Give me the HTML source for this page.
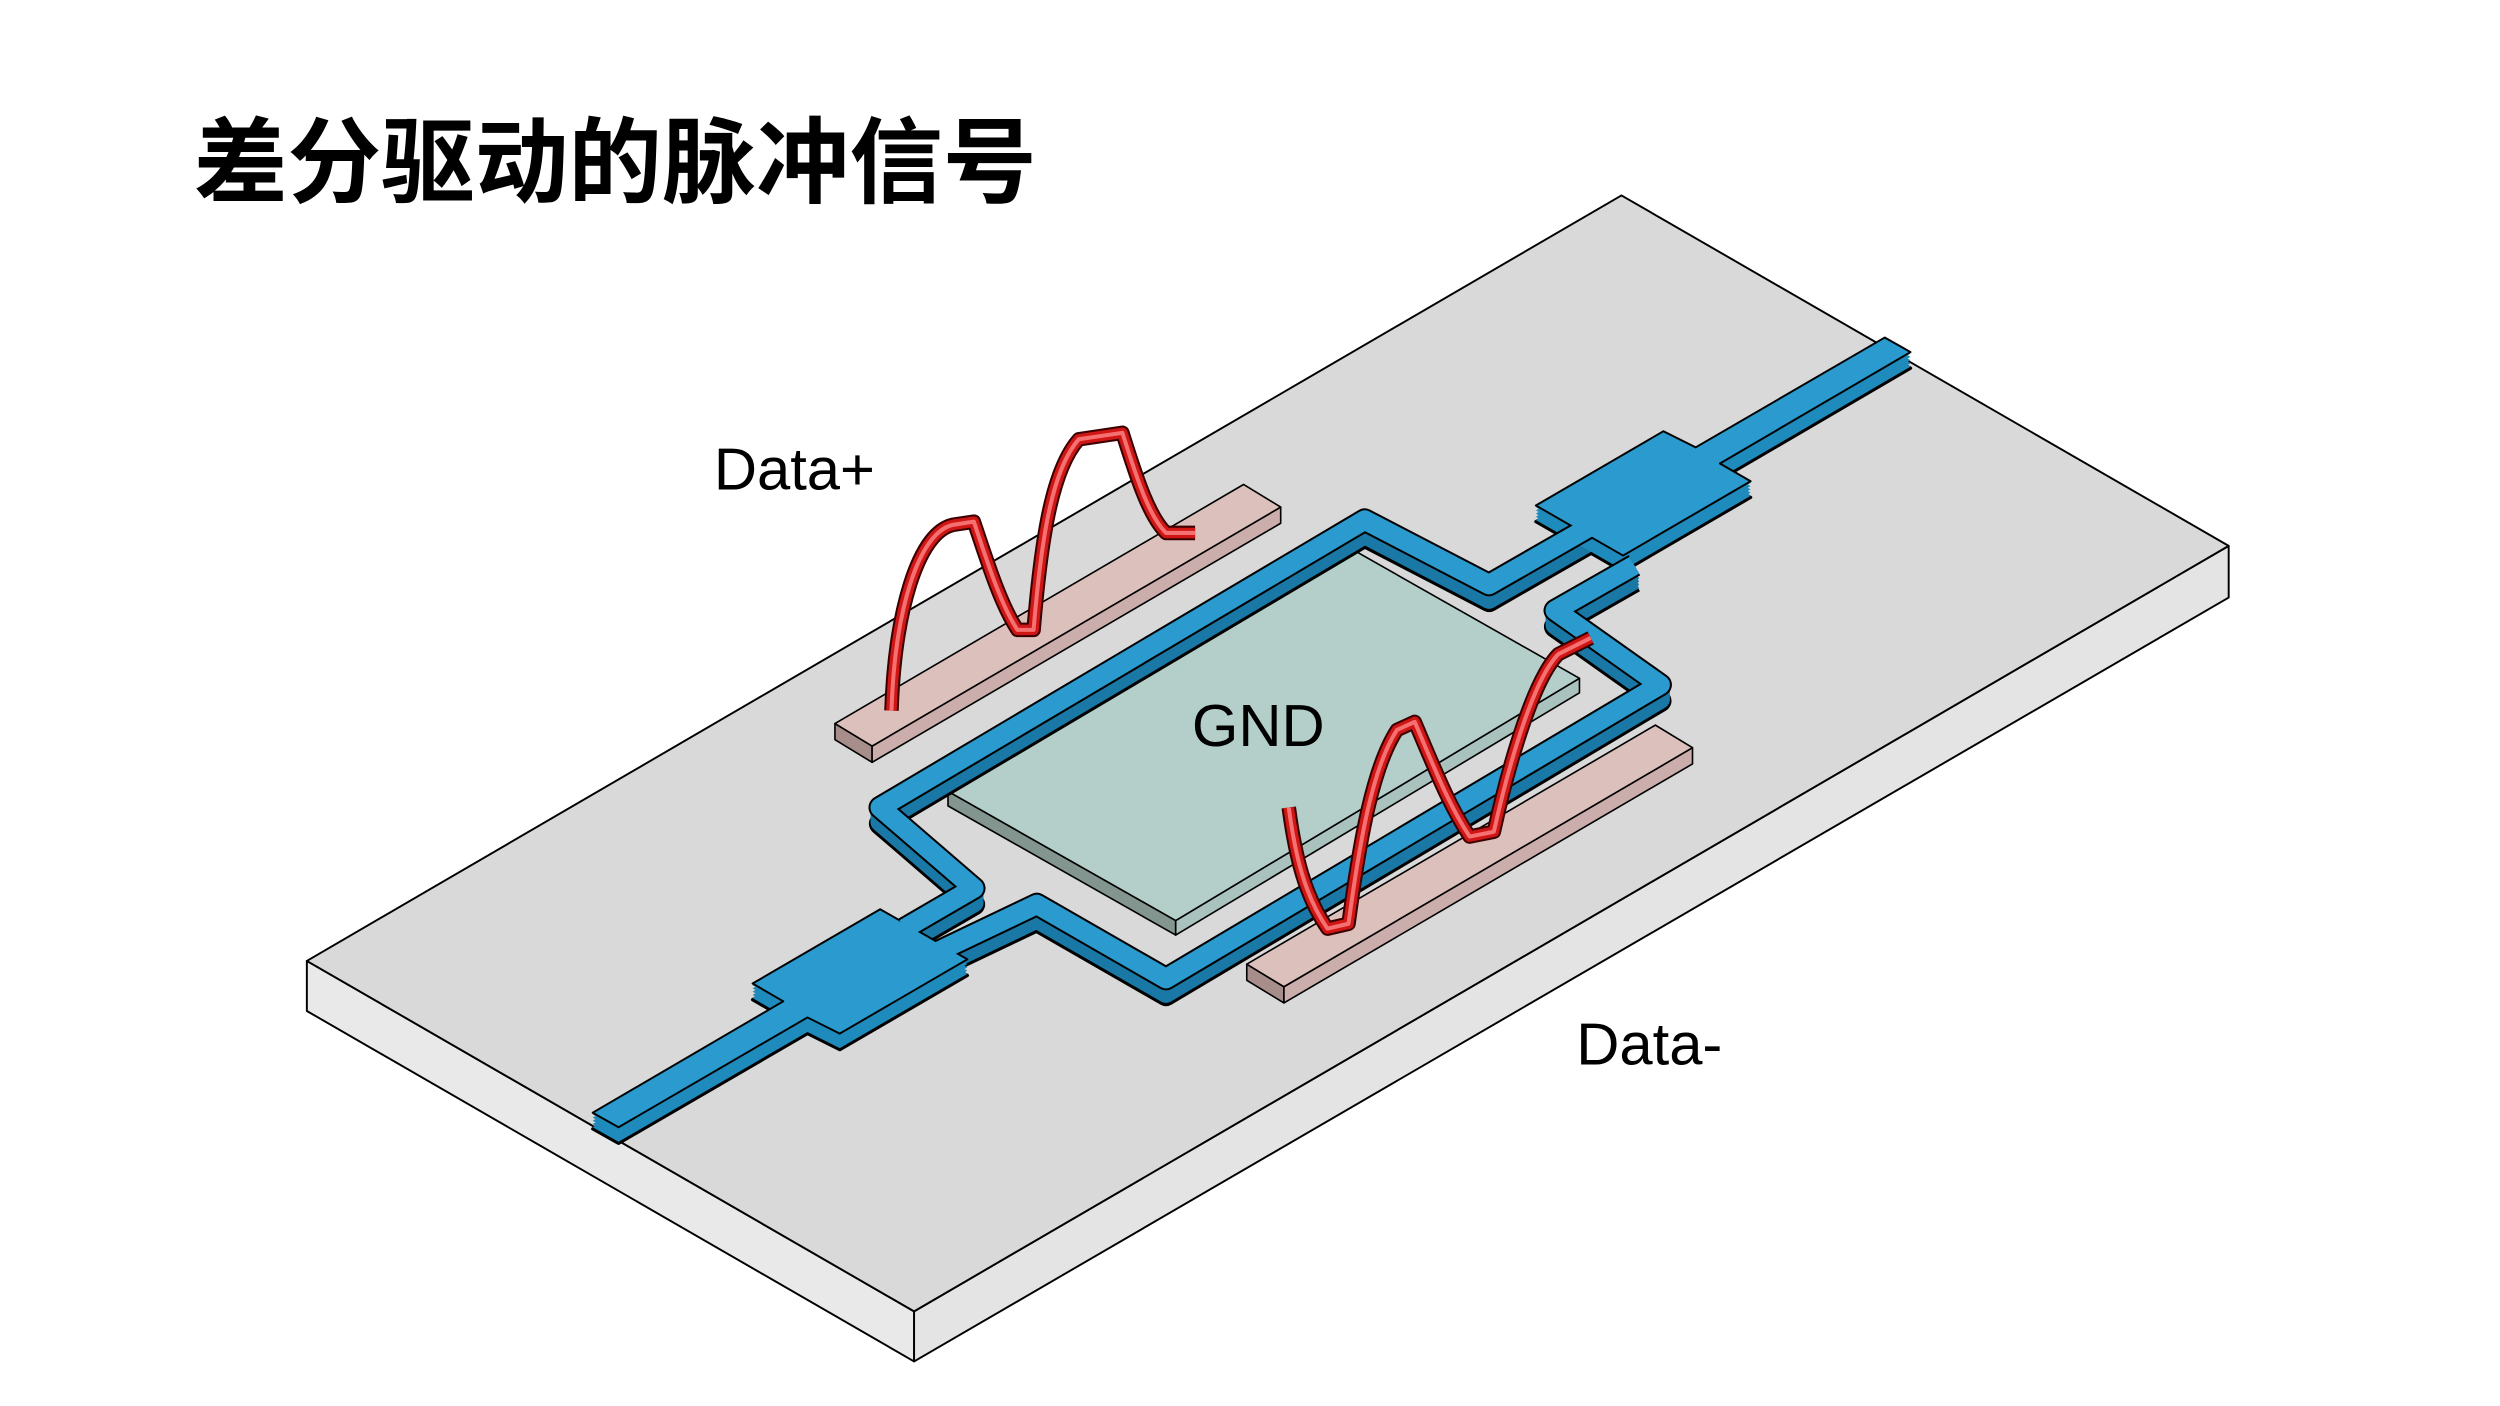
<!DOCTYPE html>
<html><head><meta charset="utf-8"><style>html,body{margin:0;padding:0;background:#fff}svg{display:block}</style></head>
<body>
<svg width="2500" height="1406" viewBox="0 0 1548 870.6" xmlns="http://www.w3.org/2000/svg">
<text x="120" y="121" font-family="'Liberation Sans','Noto Sans CJK SC',sans-serif" font-weight="bold" font-size="58" fill="#000">差分驱动的脉冲信号</text>
<g stroke="#000" stroke-width="1.2" stroke-linejoin="round">
<polygon points="190,595 566,812 566,843 190,626" fill="#e9e9e9"/>
<polygon points="566,812 1380,338 1380,370 566,843" fill="#e4e4e4"/>
<polygon points="190,595 1004,121 1380,338 566,812" fill="#d9d9d9"/>
</g>
<g stroke="#000" stroke-width="1" stroke-linejoin="round">
<polygon points="517,448 540,462 540,472 517,458" fill="#a78e8b"/>
<polygon points="540,462 793,314 793,324 540,472" fill="#cbaeab"/>
<polygon points="517,448 770,300 793,314 540,462" fill="#dcc0bc"/>
<polygon points="772,597 795,611 795,621 772,607" fill="#a78e8b"/>
<polygon points="795,611 1048,463 1048,473 795,621" fill="#cbaeab"/>
<polygon points="772,597 1025,449 1048,463 795,611" fill="#dcc0bc"/>
</g>
<g stroke="#000" stroke-width="1" stroke-linejoin="round">
<polygon points="587,490 728,570 728,579 587,499" fill="#82968f"/>
<polygon points="728,570 978,420 978,429 728,579" fill="#a9c2bd"/>
<polygon points="587,490 837,340 978,420 728,570" fill="#b4cfca"/>
</g>
<defs>
<g id="tr" fill="none" stroke-linejoin="round" stroke-linecap="butt">
<path d="M560,575 L603,550 L545,500 L845,322 L922,362 L990,323"/>
<path d="M575,592 L642,560 L722,606 L1028,424 L963,378 L1012,350"/>
</g>
<g id="pads">
<polygon points="951,313 1030,267 1050,277 1167,209 1183,218 1065,287 1084,298 1005,344"/>
<polygon points="599,594 520,640 500,630 383,698 367,689 485,620 466,609 545,563"/>
</g>
</defs>
<g stroke="#000" stroke-width="14"><use href="#tr" transform="translate(0,10)"/></g>
<g stroke="#000" stroke-width="2" fill="#000" stroke-linejoin="round"><use href="#pads" transform="translate(0,10)"/></g>
<g stroke="#1a78a6" stroke-width="12">
<use href="#tr" transform="translate(0,9)"/><use href="#tr" transform="translate(0,7)"/><use href="#tr" transform="translate(0,5)"/><use href="#tr" transform="translate(0,3)"/><use href="#tr" transform="translate(0,1)"/>
</g>
<g fill="#1f8bbd">
<use href="#pads" transform="translate(0,9)"/><use href="#pads" transform="translate(0,7)"/><use href="#pads" transform="translate(0,5)"/><use href="#pads" transform="translate(0,3)"/><use href="#pads" transform="translate(0,1)"/>
</g>
<g stroke="#000" stroke-width="14.5"><use href="#tr"/></g>
<g fill="#2b9ace" stroke="#000" stroke-width="1.2" stroke-linejoin="round"><use href="#pads"/></g>
<g stroke="#2b9ace" stroke-width="12"><use href="#tr"/></g>
<defs>
<path id="w1" d="M552,440 C554,380 568,330 590,325 L603,323 C612,350 620,375 630,390 L640,390 C645,330 652,290 668,272 L695,268 C705,300 712,320 722,330 L740,330"/>
<path id="w2" d="M798,500 C802,530 808,555 822,575 L835,572 C842,520 850,475 865,452 L876,447 C890,480 898,500 910,518 L925,515 C935,470 950,420 965,405 L985,395"/>
</defs>
<g fill="none" stroke-linejoin="round">
<use href="#w1" stroke="#3a0000" stroke-width="9"/>
<use href="#w1" stroke="#d01515" stroke-width="6.5"/>
<use href="#w1" stroke="#f57070" stroke-width="2.5"/>
<use href="#w2" stroke="#3a0000" stroke-width="9"/>
<use href="#w2" stroke="#d01515" stroke-width="6.5"/>
<use href="#w2" stroke="#f57070" stroke-width="2.5"/>
</g>
<g font-family="'Liberation Sans',sans-serif" font-size="37" fill="#000">
<text x="442" y="303">Data+</text>
<text x="738" y="462">GND</text>
<text x="976" y="659">Data-</text>
</g>
</svg>
</body></html>
